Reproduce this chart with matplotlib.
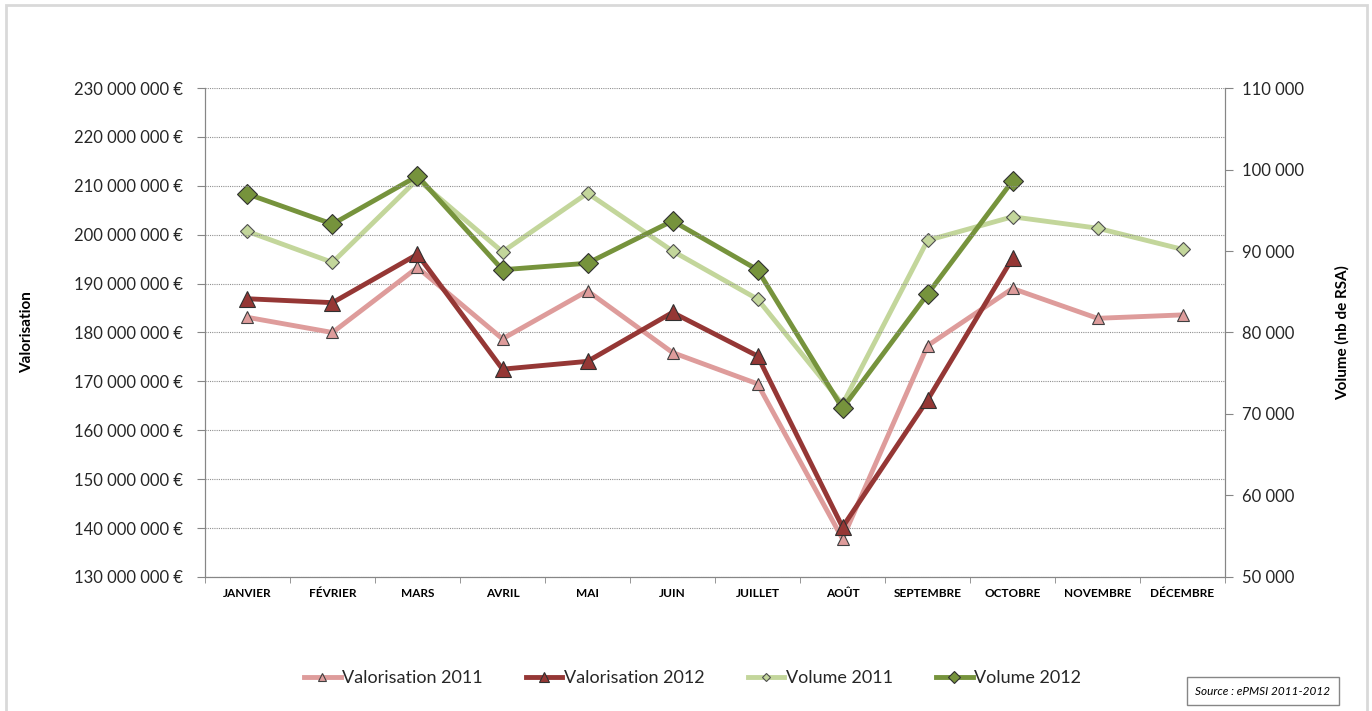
import matplotlib.pyplot as plt
from matplotlib.patches import Rectangle
from matplotlib.ticker import FuncFormatter, MultipleLocator
import numpy as np

plt.rcParams["font.family"] = ["Lato", "DejaVu Sans"]

months = ["JANVIER", "FÉVRIER", "MARS", "AVRIL", "MAI", "JUIN", "JUILLET", "AOÛT",
          "SEPTEMBRE", "OCTOBRE", "NOVEMBRE", "DÉCEMBRE"]

# valorisation in euros
valo_2011 = [183.1e6, 180.0e6, 193.3e6, 178.7e6, 188.5e6, 175.9e6, 169.5e6, 137.8e6,
             177.3e6, 189.0e6, 182.9e6, 183.6e6]
valo_2012 = [186.9e6, 186.1e6, 196.0e6, 172.5e6, 174.1e6, 184.1e6, 175.2e6, 140.2e6,
             166.2e6, 195.2e6]

# volume (nb de RSA)
vol_2011 = [92400, 88600, 98800, 89900, 97100, 90000, 84100, 71200, 91300, 94200, 92800, 90200]
vol_2012 = [97000, 93300, 99200, 87700, 88500, 93700, 87700, 70700, 84700, 98600]

c_v11 = "#DE9C9B"
c_v12 = "#953735"
c_q11 = "#C3D69B"
c_q12 = "#76933C"

fig = plt.figure(figsize=(13.72, 7.11), dpi=100)
fig.patches.append(Rectangle((0.0045, -0.01), 0.9915, 1.003, transform=fig.transFigure,
                             fill=False, edgecolor="#D9D9D9", linewidth=2))

ax = fig.add_axes([0.1494, 0.1885, 0.7435, 0.6877])
ax2 = ax.twinx()

x = np.arange(len(months))

""" Valorisation (left axis) """
l1, = ax.plot(x, valo_2011, color=c_v11, linewidth=3.5, marker="^", markersize=8,
              markerfacecolor=c_v11, markeredgecolor="#404040", markeredgewidth=0.8,
              label="Valorisation 2011", zorder=3)
l2, = ax.plot(x[:len(valo_2012)], valo_2012, color=c_v12, linewidth=3.5, marker="^", markersize=12,
              markerfacecolor=c_v12, markeredgecolor="#303030", markeredgewidth=0.8,
              label="Valorisation 2012", zorder=4)

""" Volume (right axis) """
l3, = ax2.plot(x, vol_2011, color=c_q11, linewidth=3.5, marker="D", markersize=7,
               markerfacecolor=c_q11, markeredgecolor="#505050", markeredgewidth=0.8,
               label="Volume 2011", zorder=3)
l4, = ax2.plot(x[:len(vol_2012)], vol_2012, color=c_q12, linewidth=3.5, marker="D", markersize=10,
               markerfacecolor=c_q12, markeredgecolor="#303030", markeredgewidth=0.8,
               label="Volume 2012", zorder=4)

ax.set_zorder(ax2.get_zorder() + 1)
ax.patch.set_visible(False)

ax.set_xlim(-0.5, 11.5)
ax.set_ylim(130e6, 230e6)
ax2.set_ylim(50000, 110000)

ax.yaxis.set_major_locator(MultipleLocator(10e6))
ax2.yaxis.set_major_locator(MultipleLocator(10000))


def fmt_euro(v, pos):
    return "{:,.0f} €".format(v).replace(",", " ")


def fmt_vol(v, pos):
    return "{:,.0f}".format(v).replace(",", " ")


ax.yaxis.set_major_formatter(FuncFormatter(fmt_euro))
ax2.yaxis.set_major_formatter(FuncFormatter(fmt_vol))

ax.grid(axis="y", linestyle=(0, (1, 1)), color="#909090", linewidth=0.8)
ax.set_axisbelow(True)

ax.set_xticks(x)
ax.set_xticklabels(months, fontsize=8.5, fontweight="bold")
ax.set_xticks(np.arange(-0.5, 12, 1), minor=True)
ax.tick_params(axis="x", which="major", length=0, pad=8)
ax.tick_params(axis="x", which="minor", length=4, color="#868686", direction="out")
ax.tick_params(axis="y", length=6, color="#868686", labelsize=12, pad=10, labelcolor="#262626")
ax2.tick_params(axis="y", length=6, color="#868686", labelsize=12, pad=6, labelcolor="#262626")

for a in (ax, ax2):
    a.spines["top"].set_visible(False)
    for s in ("left", "right", "bottom"):
        a.spines[s].set_color("#868686")

ax.set_ylabel("Valorisation", fontsize=11, fontweight="bold")
ax.yaxis.set_label_coords(-0.168, 0.5)
ax2.set_ylabel("Volume (nb de RSA)", fontsize=11, fontweight="bold")
ax2.yaxis.set_label_coords(1.108, 0.5)

fig.legend(handles=[l1, l2, l3, l4], loc="center", bbox_to_anchor=(0.505, 0.046), ncol=4,
           frameon=False, fontsize=13, handlelength=2.0, handletextpad=0.1, columnspacing=2.4,
           markerscale=0.65, labelcolor="#262626")

fig.text(0.9205, 0.028, "Source : ePMSI 2011-2012", fontsize=8.5, style="italic", ha="center", va="center",
         bbox=dict(boxstyle="square,pad=0.7", facecolor="white", edgecolor="#868686", linewidth=1))

plt.savefig("out.png", dpi=100)
